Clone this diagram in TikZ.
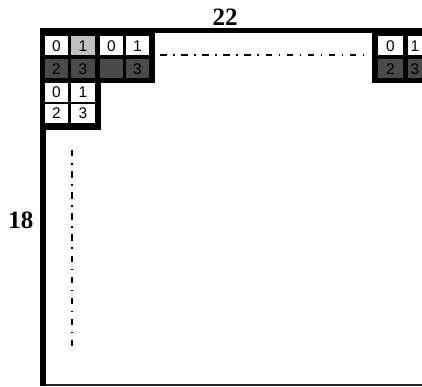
\documentclass[tikz,border=0pt]{standalone}
\usepackage{fontspec}
\setmainfont{Liberation Serif}
\setsansfont{Liberation Sans}
\definecolor{darkcell}{HTML}{4A4A4A}
\definecolor{lightcell}{HTML}{C0C0C0}
\begin{document}
\begin{tikzpicture}[x=1pt,y=-1pt,
  cell/.style={inner sep=0pt, minimum width=23.5pt, minimum height=19pt,
    font=\sffamily\fontsize{15.5}{16}\selectfont, text=black},
  wcell/.style={cell, fill=white},
  gcell/.style={cell, fill=lightcell},
  dcell/.style={cell, fill=darkcell},
  dashdot/.style={line width=1.6pt, dash pattern=on 6.5pt off 6.5pt on 1.6pt off 6.5pt},
  dimlabel/.style={font=\bfseries\fontsize{25}{27}\selectfont}]
\useasboundingbox (0,0) rectangle (422,387);
\clip (0,0) rectangle (422,387);
% frame
\fill[white] (0,0) rectangle (422,387);
\draw[line width=1.6pt, black!85] (44,385) -- (422,385);
\fill[black] (40,28) rectangle (46,386);
\fill[black] (40,28) rectangle (422,33);
% black block backgrounds
\fill[black] (40,28) rectangle (155,83);
\fill[black] (40,78) rectangle (101,130);
\fill[black] (372,28) rectangle (422,83);
% block 1
\node[wcell] (a0) at (56.5,46) {0};
\node[gcell] (a1) at (83,46) {1};
\node[dcell] (a2) at (56.5,69) {2};
\node[dcell] (a3) at (83,69) {3};
% block 2
\node[wcell] (b0) at (111.5,46) {0};
\node[wcell] (b1) at (137.5,46) {1};
\node[dcell] (b2) at (111.5,69) {};
\node[dcell] (b3) at (137.5,69) {3};
% block 3
\node[wcell] (c0) at (56.5,92.5) {0};
\node[wcell] (c1) at (83,92.5) {1};
\node[wcell] (c2) at (56.5,113.5) {2};
\node[wcell] (c3) at (83,113.5) {3};
% right block (cut off by the picture edge)
\node[wcell, minimum width=25pt] (d0) at (390.5,46) {0};
\node[wcell, minimum width=14pt] (d1) at (415,46) {1};
\node[dcell, minimum width=25pt] (d2) at (390.5,69) {2};
\node[dcell, minimum width=14pt] (d3) at (415,69) {3};
% dash-dot continuation lines
\coordinate (h1) at (160,55);
\coordinate (h2) at (363,55);
\coordinate (v1) at (72,150);
\coordinate (v2) at (72,350);
\draw[dashdot] (h1) -- (h2);
\draw[dashdot] (v1) -- (v2);
% dimension labels
\node[dimlabel] (w) at (225,17) {22};
\node[dimlabel] (hgt) at (21,220) {18};
\end{tikzpicture}
\end{document}
